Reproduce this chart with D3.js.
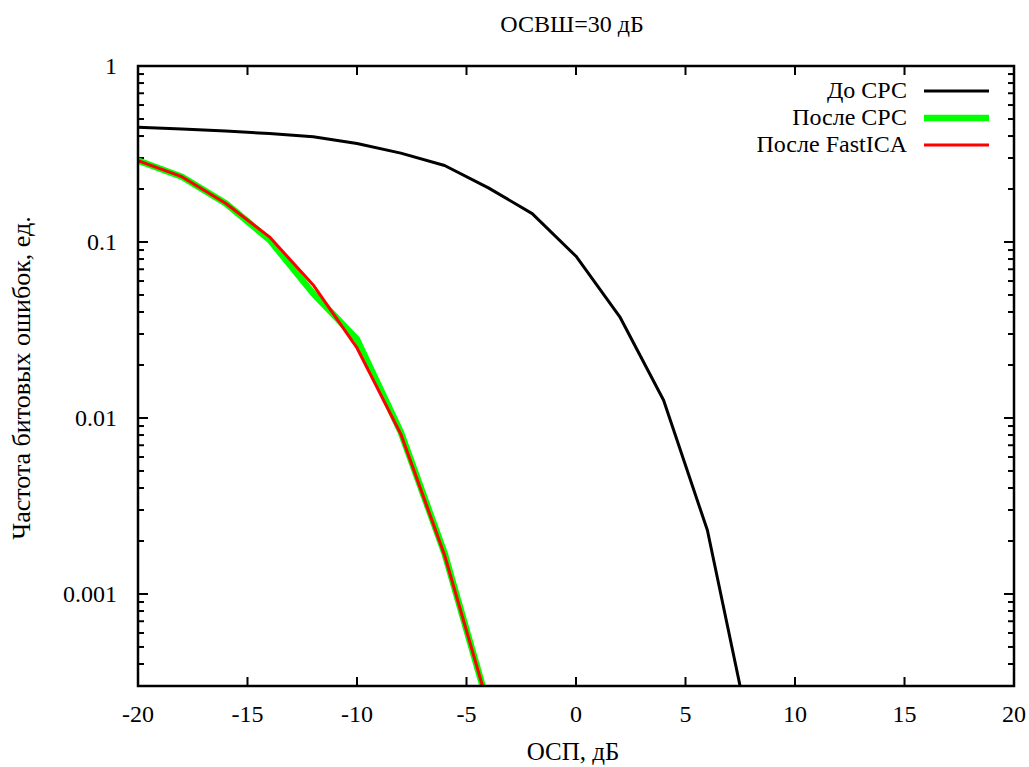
<!DOCTYPE html>
<html lang="ru">
<head>
  <meta charset="UTF-8" />
  <title>ОСВШ=30 дБ</title>
  <script src="https://d3js.org/d3.v7.min.js"></script>
  <style>
    body, html { margin: 0; padding: 0; background: #fff; }
    svg text { font-family: "Liberation Serif", "DejaVu Serif", serif; fill: #000; }
  </style>
</head>
<body>
  <svg id="chart" width="1029" height="767"></svg>
  <script>
    // Values
    const osp = [-20, -18, -16, -14, -12, -10, -8, -6, -4];
    const beforeX = [-20, -18, -16, -14, -12, -10, -8, -6, -4, -2, 0, 2, 4, 6, 8];
    const beforeSrs = [0.448, 0.438, 0.427, 0.413, 0.396, 0.363, 0.32, 0.272, 0.203, 0.145, 0.083, 0.0376, 0.0126, 0.0023, 0.00015];
    const afterSrs = [0.29, 0.235, 0.166, 0.103, 0.051, 0.028, 0.0083, 0.0017, 0.00023];
    const afterIca = [0.29, 0.235, 0.166, 0.107, 0.057, 0.025, 0.0081, 0.00166, 0.00023];
    const xTicks = [-20, -15, -10, -5, 0, 5, 10, 15, 20];
    const yTicks = [1, 0.1, 0.01, 0.001];
    const yTickLabels = ["1", "0.1", "0.01", "0.001"];

    const series = [
      { name: "До СРС", xs: beforeX, ys: beforeSrs, color: "#000", width: 3 },
      { name: "После СРС", xs: osp, ys: afterSrs, color: "#00ff00", width: 6.5 },
      { name: "После FastICA", xs: osp, ys: afterIca, color: "#ff0000", width: 3 }
    ];

    const svg = d3.select("#chart");
    const pL = 138, pR = 1014, pT = 66, pB = 686;

    const x = d3.scaleLinear().domain([-20, 20]).range([pL, pR]);
    const y = d3.scaleLog().domain([0.0003, 1]).range([pB, pT]);

    // clip region for curves
    svg.append("clipPath").attr("id", "clip")
      .append("rect").attr("x", pL).attr("y", pT)
      .attr("width", pR - pL).attr("height", pB - pT);

    // minor log ticks
    const minor = [];
    for (let e = -4; e < 0; e++) {
      for (let m = 2; m <= 9; m++) {
        const v = m * Math.pow(10, e);
        if (v >= 0.0003 && v < 1) minor.push(v);
      }
    }

    const ticks = svg.append("g").attr("stroke", "#000").attr("stroke-width", 2);
    // x ticks bottom and top
    xTicks.forEach(t => {
      ticks.append("line").attr("x1", x(t)).attr("x2", x(t)).attr("y1", pB).attr("y2", pB - 9);
      ticks.append("line").attr("x1", x(t)).attr("x2", x(t)).attr("y1", pT).attr("y2", pT + 9);
    });
    // y ticks left and right
    yTicks.forEach(t => {
      ticks.append("line").attr("x1", pL).attr("x2", pL + 10).attr("y1", y(t)).attr("y2", y(t));
      ticks.append("line").attr("x1", pR).attr("x2", pR - 10).attr("y1", y(t)).attr("y2", y(t));
    });
    minor.forEach(t => {
      ticks.append("line").attr("x1", pL).attr("x2", pL + 6).attr("y1", y(t)).attr("y2", y(t));
      ticks.append("line").attr("x1", pR).attr("x2", pR - 6).attr("y1", y(t)).attr("y2", y(t));
    });

    // tick labels
    svg.append("g").selectAll("text").data(xTicks).join("text")
      .attr("x", d => x(d)).attr("y", 722)
      .attr("text-anchor", "middle").attr("font-size", 24)
      .text(d => d);
    svg.append("g").selectAll("text").data(yTicks).join("text")
      .attr("x", 117).attr("y", d => y(d) + 8)
      .attr("text-anchor", "end").attr("font-size", 24)
      .text((d, i) => yTickLabels[i]);

    // curves
    const line = d3.line().x(d => x(d[0])).y(d => y(d[1]));
    const curves = svg.append("g").attr("clip-path", "url(#clip)");
    series.forEach(s => {
      curves.append("path")
        .attr("d", line(s.xs.map((v, i) => [v, s.ys[i]])))
        .attr("fill", "none").attr("stroke", s.color)
        .attr("stroke-width", s.width).attr("stroke-linejoin", "round");
    });

    // frame
    svg.append("rect").attr("x", pL).attr("y", pT)
      .attr("width", pR - pL).attr("height", pB - pT)
      .attr("fill", "none").attr("stroke", "#000").attr("stroke-width", 2.5);

    // legend
    const leg = svg.append("g");
    series.forEach((s, i) => {
      const ly = 91 + i * 27;
      leg.append("text").attr("x", 907).attr("y", ly + 7)
        .attr("text-anchor", "end").attr("font-size", 24).text(s.name);
      leg.append("line").attr("x1", 924).attr("x2", 989).attr("y1", ly).attr("y2", ly)
        .attr("stroke", s.color).attr("stroke-width", s.width);
    });

    // titles
    svg.append("text").attr("x", 572).attr("y", 32)
      .attr("text-anchor", "middle").attr("font-size", 24).text("ОСВШ=30 дБ");
    svg.append("text").attr("x", 573).attr("y", 760)
      .attr("text-anchor", "middle").attr("font-size", 25).text("ОСП, дБ");
    svg.append("text").attr("transform", "translate(30,378) rotate(-90)")
      .attr("text-anchor", "middle").attr("font-size", 26).text("Частота битовых ошибок, ед.");
  </script>
</body>
</html>
